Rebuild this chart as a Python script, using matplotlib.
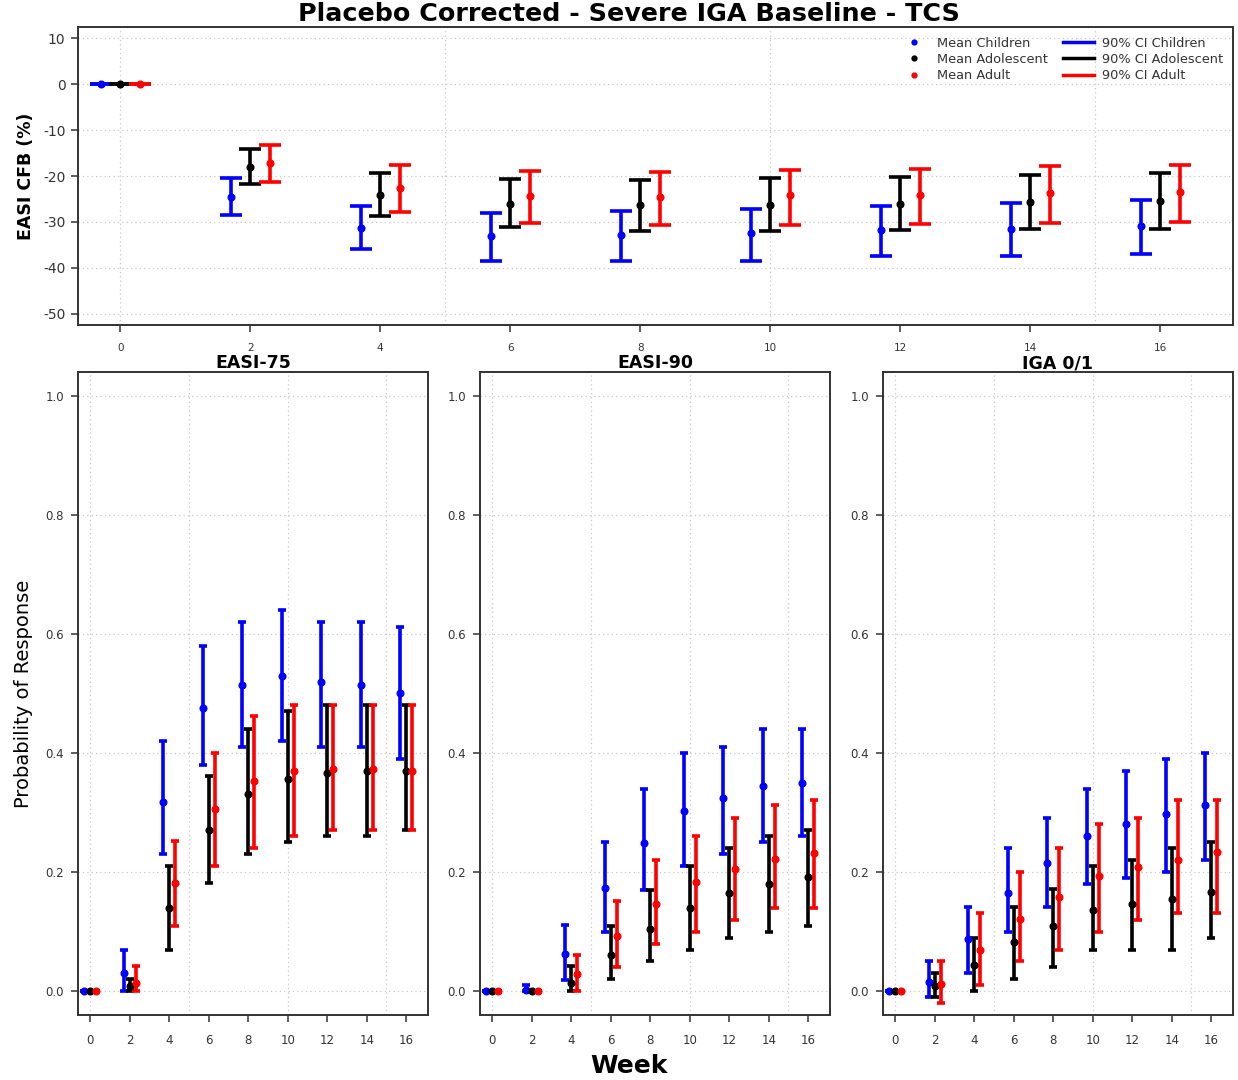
import matplotlib
matplotlib.use("Agg")
import matplotlib.pyplot as plt
from matplotlib.lines import Line2D
import numpy as np

plt.rcParams['font.family'] = ['DejaVu Sans']
plt.rcParams['axes.unicode_minus'] = False

weeks = [0, 2, 4, 6, 8, 10, 12, 14, 16]
groups = ['Children', 'Adolescent', 'Adult']
colors = {'Children': 'blue', 'Adolescent': 'black', 'Adult': 'red'}
offsets = {'Children': -0.3, 'Adolescent': 0.0, 'Adult': 0.3}

# EASI CFB (%) placebo corrected: mean, lower CI, upper CI
cfb_mean = {
    'Children':   [0, -24.5, -31.2, -33.0, -32.8, -32.5, -31.7, -31.5, -30.8],
    'Adolescent': [0, -18.0, -24.2, -26.0, -26.3, -26.2, -26.0, -25.6, -25.4],
    'Adult':      [0, -17.2, -22.7, -24.4, -24.6, -24.1, -24.1, -23.6, -23.4],
}
cfb_lo = {
    'Children':   [0, -28.5, -35.8, -38.5, -38.5, -38.4, -37.5, -37.3, -36.9],
    'Adolescent': [0, -21.7, -28.8, -31.0, -31.9, -31.9, -31.7, -31.5, -31.5],
    'Adult':      [0, -21.2, -27.8, -30.2, -30.6, -30.6, -30.4, -30.2, -30.0],
}
cfb_hi = {
    'Children':   [0, -20.5, -26.5, -28.0, -27.6, -27.1, -26.5, -25.8, -25.2],
    'Adolescent': [0, -14.2, -19.3, -20.6, -20.8, -20.4, -20.2, -19.7, -19.3],
    'Adult':      [0, -13.3, -17.7, -19.0, -19.2, -18.7, -18.4, -17.8, -17.6],
}

# probability of response
e75_mean = {
    'Children':   [0, 0.031, 0.318, 0.475, 0.514, 0.529, 0.519, 0.514, 0.501],
    'Adolescent': [0, 0.009, 0.139, 0.271, 0.332, 0.356, 0.367, 0.370, 0.369],
    'Adult':      [0, 0.013, 0.181, 0.306, 0.353, 0.369, 0.373, 0.374, 0.370],
}
e75_lo = {
    'Children':   [0, 0.0, 0.231, 0.38, 0.41, 0.421, 0.41, 0.41, 0.39],
    'Adolescent': [0, 0.0, 0.07, 0.181, 0.23, 0.25, 0.26, 0.26, 0.27],
    'Adult':      [0, 0.0, 0.11, 0.21, 0.24, 0.26, 0.27, 0.27, 0.27],
}
e75_hi = {
    'Children':   [0, 0.069, 0.421, 0.58, 0.62, 0.64, 0.62, 0.62, 0.612],
    'Adolescent': [0, 0.02, 0.211, 0.361, 0.441, 0.47, 0.481, 0.48, 0.48],
    'Adult':      [0, 0.042, 0.252, 0.40, 0.462, 0.481, 0.481, 0.48, 0.48],
}

e90_mean = {
    'Children':   [0, 0.002, 0.062, 0.173, 0.249, 0.302, 0.325, 0.345, 0.350],
    'Adolescent': [0, 0.0, 0.013, 0.061, 0.105, 0.140, 0.165, 0.180, 0.192],
    'Adult':      [0, 0.0, 0.029, 0.092, 0.146, 0.184, 0.206, 0.222, 0.232],
}
e90_lo = {
    'Children':   [0, 0.0, 0.019, 0.10, 0.17, 0.21, 0.23, 0.25, 0.26],
    'Adolescent': [0, 0.0, 0.0, 0.02, 0.05, 0.07, 0.09, 0.10, 0.11],
    'Adult':      [0, 0.0, 0.0, 0.04, 0.08, 0.10, 0.12, 0.14, 0.14],
}
e90_hi = {
    'Children':   [0, 0.01, 0.111, 0.25, 0.34, 0.40, 0.41, 0.441, 0.441],
    'Adolescent': [0, 0.0, 0.042, 0.11, 0.17, 0.21, 0.24, 0.26, 0.27],
    'Adult':      [0, 0.0, 0.061, 0.151, 0.221, 0.26, 0.291, 0.312, 0.321],
}

iga_mean = {
    'Children':   [0, 0.015, 0.087, 0.165, 0.216, 0.260, 0.280, 0.298, 0.313],
    'Adolescent': [0, 0.009, 0.044, 0.082, 0.109, 0.136, 0.147, 0.155, 0.167],
    'Adult':      [0, 0.012, 0.069, 0.122, 0.159, 0.193, 0.209, 0.220, 0.234],
}
iga_lo = {
    'Children':   [0, -0.01, 0.03, 0.10, 0.141, 0.18, 0.19, 0.20, 0.22],
    'Adolescent': [0, -0.01, 0.0, 0.02, 0.04, 0.07, 0.07, 0.07, 0.09],
    'Adult':      [0, -0.02, 0.01, 0.05, 0.07, 0.10, 0.12, 0.131, 0.131],
}
iga_hi = {
    'Children':   [0, 0.051, 0.141, 0.24, 0.291, 0.34, 0.37, 0.39, 0.40],
    'Adolescent': [0, 0.03, 0.09, 0.141, 0.171, 0.21, 0.22, 0.24, 0.25],
    'Adult':      [0, 0.051, 0.131, 0.20, 0.24, 0.281, 0.291, 0.321, 0.321],
}

W, H = 1238, 1080
fig = plt.figure(figsize=(W / 100, H / 100), dpi=100)
GRID = dict(linestyle=(0, (1, 2.5)), color='#c8c8c8', linewidth=0.9, zorder=0)


def px_axes(x0, y0, x1, y1):
    return fig.add_axes([x0 / W, 1 - y1 / H, (x1 - x0) / W, (y1 - y0) / H])


def style(ax):
    for s in ax.spines.values():
        s.set_linewidth(1.4)
        s.set_color('#333333')
    ax.tick_params(direction='out', length=5, width=1.1, color='#333333',
                   labelcolor='#333333')
    ax.yaxis.grid(True, **GRID)
    for gx in [0, 5, 10, 15]:
        ax.axvline(gx, **GRID)
    ax.set_axisbelow(True)


def draw(ax, mean, lo, hi, capsize):
    for g in groups:
        x = np.array(weeks) + offsets[g]
        m = np.array(mean[g])
        yerr = [m - np.array(lo[g]), np.array(hi[g]) - m]
        ax.errorbar(x, m, yerr=yerr, fmt='o', color=colors[g], ms=4.8,
                    elinewidth=2.6, capsize=capsize, capthick=2.6, zorder=3)


# top panel
ax = px_axes(78, 27, 1233, 325)
style(ax)
draw(ax, cfb_mean, cfb_lo, cfb_hi, 8)
ax.set_xlim(-0.65, 17.12)
ax.set_ylim(-52.4, 12.4)
ax.set_yticks([10, 0, -10, -20, -30, -40, -50])
ax.set_xticks(weeks)
ax.tick_params(axis='x', pad=8, labelsize=7.5)
ax.tick_params(axis='y', pad=4, labelsize=10)
ax.set_ylabel('EASI CFB (%)', fontsize=12.5, fontweight='bold', labelpad=6)

fig.text(629 / W, 1 - 14 / H, 'Placebo Corrected - Severe IGA Baseline - TCS',
         fontsize=18.3, fontweight='bold', ha='center', va='center')

handles = [Line2D([], [], marker='o', ls='', color=colors[g], ms=3.5) for g in groups]
handles += [Line2D([], [], color=colors[g], lw=2.5) for g in groups]
labels = ['Mean ' + g for g in groups] + ['90% CI ' + g for g in groups]
ax.legend(handles, labels, ncol=2, loc='upper right', frameon=False,
          fontsize=9.3, handlelength=2.4, labelspacing=0.25, columnspacing=1.2,
          handletextpad=0.6, borderaxespad=0.35, labelcolor='#333333')

# bottom panels
panels = [
    ('EASI-75', e75_mean, e75_lo, e75_hi, 78),
    ('EASI-90', e90_mean, e90_lo, e90_hi, 480),
    ('IGA 0/1', iga_mean, iga_lo, iga_hi, 883),
]
for i, (title, mean, lo, hi, x0) in enumerate(panels):
    ax = px_axes(x0, 372, x0 + 350, 1015)
    style(ax)
    draw(ax, mean, lo, hi, 3.2)
    ax.set_xlim(-0.61, 17.1)
    ax.set_ylim(-0.04, 1.04)
    ax.set_xticks(weeks)
    ax.set_yticks([0.0, 0.2, 0.4, 0.6, 0.8, 1.0])
    ax.set_yticklabels(['0.0', '0.2', '0.4', '0.6', '0.8', '1.0'])
    ax.tick_params(axis='x', pad=9, labelsize=8.5)
    ax.tick_params(axis='y', pad=5, labelsize=8.5)
    ax.set_title(title, fontsize=12.5, fontweight='bold', pad=0)
    if i == 0:
        ax.set_ylabel('Probability of Response', fontsize=14, labelpad=9)

fig.text(629 / W, 1 - 1066 / H, 'Week', fontsize=18, fontweight='bold',
         ha='center', va='center')

fig.savefig('out.png', dpi=100)
